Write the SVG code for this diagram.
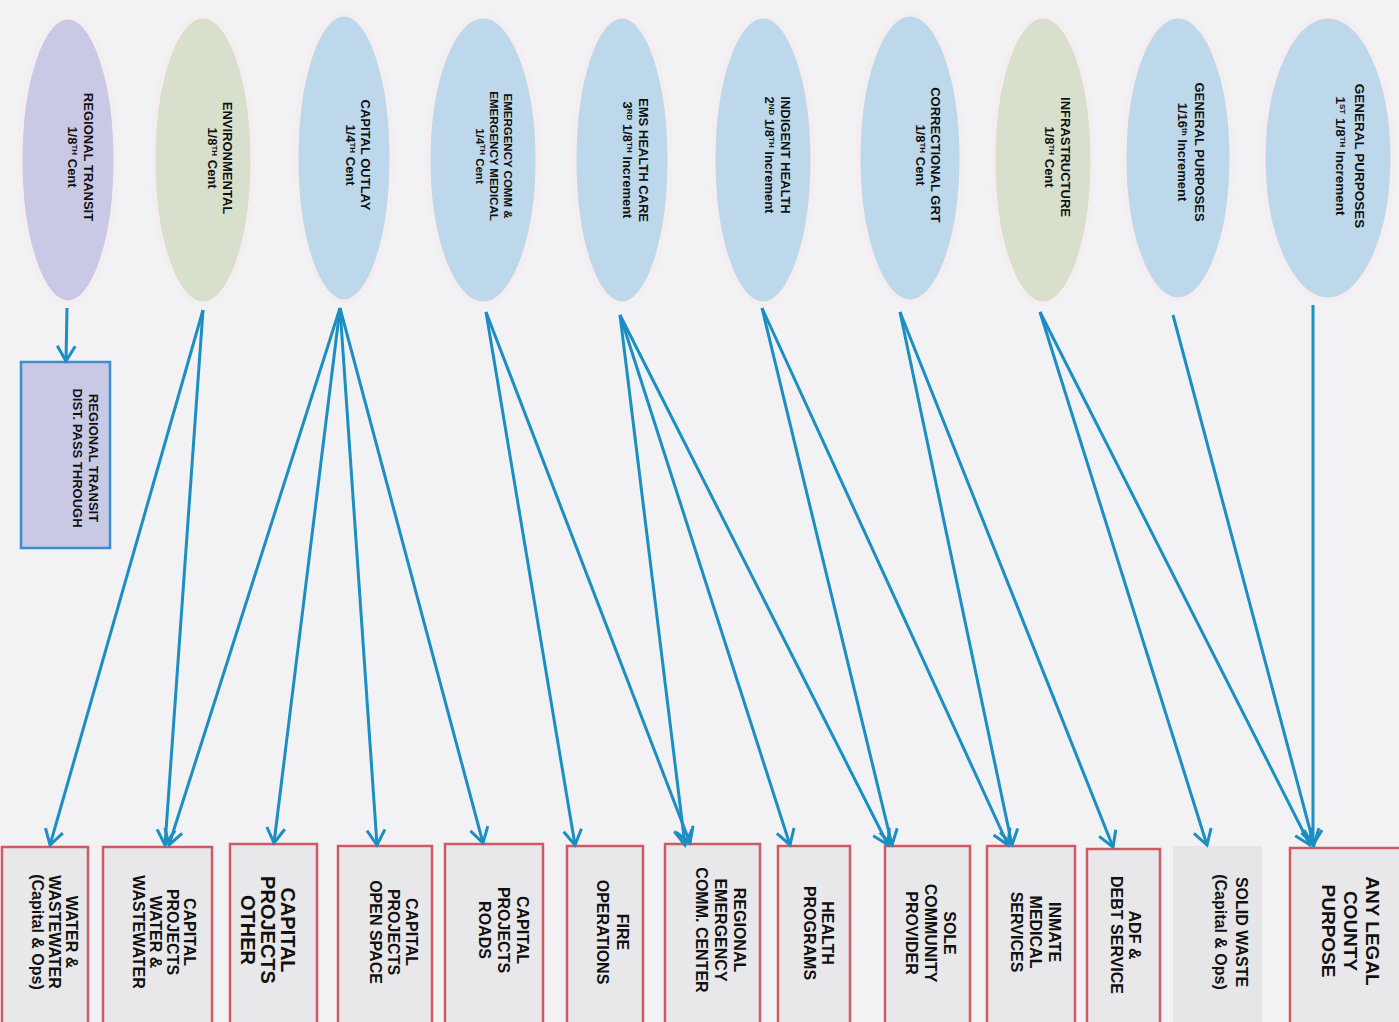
<svg xmlns="http://www.w3.org/2000/svg" width="1399" height="1022" viewBox="0 0 1399 1022">
<defs>
<marker id="ah" markerUnits="userSpaceOnUse" markerWidth="24" markerHeight="24" viewBox="0 0 24 24" refX="20" refY="12" orient="auto">
<path d="M5,3 L20,12 L5,21" fill="none" stroke="#1b8ec2" stroke-width="3" stroke-linejoin="miter"/>
</marker>
</defs>
<style>
.bg{fill:#f2f2f4}
.el{stroke:#f4eef0;stroke-width:5}
.blue{fill:#bdd8ea}
.green{fill:#d8dfcd}
.lav{fill:#c9c9e6}
.box{fill:#e8e8eb;stroke:#cf5a63;stroke-width:2.5}
.box2{fill:#e6e6e8}
.tbox{fill:#c9c9e6;stroke:#3b8fd0;stroke-width:2.5}
text{font-family:"Liberation Sans",Arial,sans-serif;font-weight:bold;fill:#111;text-anchor:middle}
.t1{font-size:13px}
.t2{font-size:11.5px}
.t3{font-size:16px}
.t4{font-size:20px}
.sup{font-size:8px}
.cn line{stroke:#1b8ec2;stroke-width:3;fill:none;marker-end:url(#ah)}
</style>
<rect class="bg" x="0" y="0" width="1399" height="1022"/>

<g id="n-regional-transit">
<ellipse class="el lav" cx="68" cy="160" rx="48" ry="143"/>
<text class="t1" transform="translate(83.5,157) rotate(90)"><tspan x="0" dy="0">REGIONAL TRANSIT</tspan><tspan x="0" dy="16">1/8<tspan class="sup" baseline-shift="super">TH</tspan> Cent</tspan></text>
</g>
<g id="n-environmental">
<ellipse class="el green" cx="203" cy="160" rx="50" ry="144"/>
<text class="t1" transform="translate(222.5,158) rotate(90)"><tspan x="0" dy="0">ENVIRONMENTAL</tspan><tspan x="0" dy="15">1/8<tspan class="sup" baseline-shift="super">TH</tspan> Cent</tspan></text>
</g>
<g id="n-capital-outlay">
<ellipse class="el blue" cx="344" cy="158" rx="48" ry="144"/>
<text class="t1" transform="translate(360.5,155) rotate(90)"><tspan x="0" dy="0">CAPITAL OUTLAY</tspan><tspan x="0" dy="15">1/4<tspan class="sup" baseline-shift="super">TH</tspan> Cent</tspan></text>
</g>
<g id="n-emergency-comm">
<ellipse class="el blue" cx="483" cy="160" rx="55" ry="144"/>
<text class="t2" transform="translate(504,156) rotate(90)"><tspan x="0" dy="0">EMERGENCY COMM &amp;</tspan><tspan x="0" dy="14">EMERGENCY MEDICAL</tspan><tspan x="0" dy="14">1/4<tspan class="sup" baseline-shift="super">TH</tspan> Cent</tspan></text>
</g>
<g id="n-ems">
<ellipse class="el blue" cx="622" cy="160" rx="48" ry="144"/>
<text class="t1" transform="translate(638.5,160) rotate(90)"><tspan x="0" dy="0">EMS HEALTH CARE</tspan><tspan x="0" dy="16">3<tspan class="sup" baseline-shift="super">RD</tspan> 1/8<tspan class="sup" baseline-shift="super">TH</tspan> Increment</tspan></text>
</g>
<g id="n-indigent">
<ellipse class="el blue" cx="763" cy="160" rx="50" ry="144"/>
<text class="t1" transform="translate(780.5,155) rotate(90)"><tspan x="0" dy="0">INDIGENT HEALTH</tspan><tspan x="0" dy="16">2<tspan class="sup" baseline-shift="super">ND</tspan> 1/8<tspan class="sup" baseline-shift="super">TH</tspan> Increment</tspan></text>
</g>
<g id="n-correctional">
<ellipse class="el blue" cx="910" cy="158" rx="52" ry="144"/>
<text class="t1" transform="translate(930.5,155) rotate(90)"><tspan x="0" dy="0">CORRECTIONAL GRT</tspan><tspan x="0" dy="15">1/8<tspan class="sup" baseline-shift="super">TH</tspan> Cent</tspan></text>
</g>
<g id="n-infrastructure">
<ellipse class="el green" cx="1043" cy="160" rx="50" ry="144"/>
<text class="t1" transform="translate(1060.5,157) rotate(90)"><tspan x="0" dy="0">INFRASTRUCTURE</tspan><tspan x="0" dy="16">1/8<tspan class="sup" baseline-shift="super">TH</tspan> Cent</tspan></text>
</g>
<g id="n-general-16">
<ellipse class="el blue" cx="1178" cy="158" rx="54" ry="142"/>
<text class="t1" transform="translate(1195,152) rotate(90)"><tspan x="0" dy="0">GENERAL PURPOSES</tspan><tspan x="0" dy="17">1/16<tspan class="sup" baseline-shift="super">th</tspan> Increment</tspan></text>
</g>
<g id="n-general-1st">
<ellipse class="el blue" cx="1328" cy="158" rx="65" ry="142"/>
<text class="t1" style="font-size:13.5px" transform="translate(1355,156) rotate(90)"><tspan x="0" dy="0">GENERAL PURPOSES</tspan><tspan x="0" dy="19">1<tspan class="sup" baseline-shift="super">ST</tspan> 1/8<tspan class="sup" baseline-shift="super">TH</tspan> Increment</tspan></text>
</g>

<g id="n-transit-pass">
<rect class="tbox" x="21" y="362" width="89" height="186"/>
<text class="t1" transform="translate(88.5,458) rotate(90)"><tspan x="0" dy="0">REGIONAL TRANSIT</tspan><tspan x="0" dy="16">DIST. PASS THROUGH</tspan></text>
</g>

<g id="b-water">
<rect class="box" x="2" y="847" width="86" height="185"/>
<text class="t3" transform="translate(66,932) rotate(90)"><tspan x="0" dy="0">WATER &amp;</tspan><tspan x="0" dy="17">WASTEWATER</tspan><tspan x="0" dy="17">(Capital &amp; Ops)</tspan></text>
</g>
<g id="b-cp-water">
<rect class="box" x="103" y="847" width="109" height="185"/>
<text class="t3" transform="translate(184,932) rotate(90)"><tspan x="0" dy="0">CAPITAL</tspan><tspan x="0" dy="17">PROJECTS</tspan><tspan x="0" dy="17">WATER &amp;</tspan><tspan x="0" dy="17">WASTEWATER</tspan></text>
</g>
<g id="b-cp-other">
<rect class="box" x="230" y="844" width="87" height="188"/>
<text class="t4" transform="translate(281,930) rotate(90)"><tspan x="0" dy="0">CAPITAL</tspan><tspan x="0" dy="20">PROJECTS</tspan><tspan x="0" dy="20">OTHER</tspan></text>
</g>
<g id="b-open-space">
<rect class="box" x="338" y="846" width="94" height="186"/>
<text class="t3" transform="translate(406,932) rotate(90)"><tspan x="0" dy="0">CAPITAL</tspan><tspan x="0" dy="18">PROJECTS</tspan><tspan x="0" dy="18">OPEN SPACE</tspan></text>
</g>
<g id="b-roads">
<rect class="box" x="445" y="844" width="98" height="188"/>
<text class="t3" transform="translate(517,930) rotate(90)"><tspan x="0" dy="0">CAPITAL</tspan><tspan x="0" dy="19">PROJECTS</tspan><tspan x="0" dy="19">ROADS</tspan></text>
</g>
<g id="b-fire">
<rect class="box" x="567" y="846" width="76" height="186"/>
<text class="t3" transform="translate(617,932) rotate(90)"><tspan x="0" dy="0">FIRE</tspan><tspan x="0" dy="20">OPERATIONS</tspan></text>
</g>
<g id="b-rec">
<rect class="box" x="665" y="844" width="95" height="188"/>
<text class="t3" transform="translate(734,930) rotate(90)"><tspan x="0" dy="0">REGIONAL</tspan><tspan x="0" dy="19">EMERGENCY</tspan><tspan x="0" dy="19">COMM. CENTER</tspan></text>
</g>
<g id="b-health">
<rect class="box" x="778" y="846" width="72" height="186"/>
<text class="t3" transform="translate(822,933) rotate(90)"><tspan x="0" dy="0">HEALTH</tspan><tspan x="0" dy="18">PROGRAMS</tspan></text>
</g>
<g id="b-sole">
<rect class="box" x="885" y="846" width="85" height="186"/>
<text class="t3" transform="translate(944,933) rotate(90)"><tspan x="0" dy="0">SOLE</tspan><tspan x="0" dy="19">COMMUNITY</tspan><tspan x="0" dy="19">PROVIDER</tspan></text>
</g>
<g id="b-inmate">
<rect class="box" x="987" y="846" width="88" height="186"/>
<text class="t3" transform="translate(1049,932) rotate(90)"><tspan x="0" dy="0">INMATE</tspan><tspan x="0" dy="19">MEDICAL</tspan><tspan x="0" dy="19">SERVICES</tspan></text>
</g>
<g id="b-adf">
<rect class="box" x="1087" y="849" width="73" height="183"/>
<text class="t3" transform="translate(1129,935) rotate(90)"><tspan x="0" dy="0">ADF &amp;</tspan><tspan x="0" dy="18">DEBT SERVICE</tspan></text>
</g>
<g id="b-solid">
<rect class="box2" x="1173" y="846" width="89" height="186"/>
<text class="t3" transform="translate(1236,932) rotate(90)"><tspan x="0" dy="0">SOLID WASTE</tspan><tspan x="0" dy="21">(Capital &amp; Ops)</tspan></text>
</g>
<g id="b-any">
<rect class="box" x="1290" y="848" width="112" height="184"/>
<text class="t4" style="font-size:19px" transform="translate(1366,931) rotate(90)"><tspan x="0" dy="0">ANY LEGAL</tspan><tspan x="0" dy="22">COUNTY</tspan><tspan x="0" dy="22">PURPOSE</tspan></text>
</g>

<g id="connectors" class="cn">
<line x1="67" y1="308" x2="66" y2="361"/>
<line x1="203" y1="310" x2="50" y2="845"/>
<line x1="203" y1="310" x2="165" y2="845"/>
<line x1="340" y1="308" x2="169" y2="845"/>
<line x1="340" y1="308" x2="274" y2="843"/>
<line x1="340" y1="308" x2="377" y2="845"/>
<line x1="340" y1="308" x2="483" y2="843"/>
<line x1="486" y1="312" x2="575" y2="845"/>
<line x1="486" y1="312" x2="690" y2="843"/>
<line x1="620" y1="315" x2="685" y2="845"/>
<line x1="620" y1="315" x2="790" y2="845"/>
<line x1="620" y1="315" x2="888" y2="845"/>
<line x1="762" y1="308" x2="892" y2="845"/>
<line x1="762" y1="308" x2="1008" y2="845"/>
<line x1="900" y1="312" x2="1012" y2="845"/>
<line x1="900" y1="312" x2="1113" y2="847"/>
<line x1="1040" y1="312" x2="1207" y2="845"/>
<line x1="1040" y1="312" x2="1310" y2="845"/>
<line x1="1173" y1="315" x2="1314" y2="845"/>
<line x1="1313" y1="305" x2="1313" y2="845"/>
</g>
</svg>
